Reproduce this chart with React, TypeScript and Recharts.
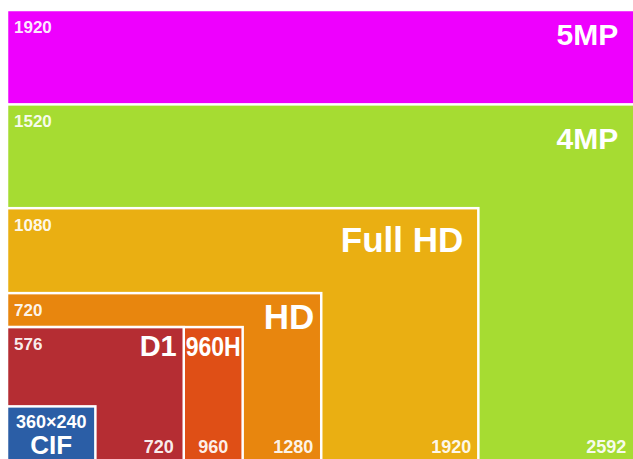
import React from 'react';
import { ComposedChart, XAxis, YAxis, ReferenceArea } from 'recharts';

// Resolutions, drawn largest first so smaller ones sit on top
const names = ['5MP', '4MP', 'Full HD', 'HD', '960H', 'D1', 'CIF'];
const widths = [2592, 2592, 1920, 1280, 960, 720, 360];
const heights = [1920, 1520, 1080, 720, 576, 576, 240];
const colors = ['#EE00FE', '#A6DC32', '#EAAF12', '#E8860E', '#DF4F16', '#B52D33', '#2B5EA6'];
// which corner labels are visible (others are hidden behind later boxes)
const showHeight = [true, true, true, true, false, true, false];
const showWidth = [false, true, true, true, true, true, false];

// styling of the name labels (font size, offset from top-right corner, baseline offset)
const nameStyle: Record<string, { size: number; dx: number; dy: number; center?: boolean; squeeze?: number }> = {
  '5MP': { size: 30, dx: -25, dy: 35 },
  '4MP': { size: 30, dx: -25, dy: 45 },
  'Full HD': { size: 35, dx: -15, dy: 44 },
  HD: { size: 35, dx: -7, dy: 36 },
  D1: { size: 29, dx: -7, dy: 29 },
  '960H': { size: 27, dx: 0, dy: 29, center: true, squeeze: 55 },
};
const widthLabelDx: Record<string, number> = { '4MP': -17, 'Full HD': -7, HD: -8, D1: -10, '960H': 0 };

const data = names.map((n, i) => ({ name: n, w: widths[i], h: heights[i] }));
const FONT = '"Liberation Sans", Arial, Helvetica, sans-serif';

const ResBox = (props: any) => {
  const { x, y, width, height, idx } = props;
  const name = names[idx];
  const right = x + width;
  const bottom = y + height;
  const ns = nameStyle[name];
  // left edge of the visible strip for 960H (right of D1 box)
  const stripLeft = name === '960H' ? x + (width * widths[5]) / widths[4] : x;
  return (
    <g>
      <rect x={x} y={y} width={width} height={height} fill={colors[idx]} stroke="#fff" strokeWidth={2.5} />
      {showHeight[idx] && (
        <text x={x + 7} y={y + 23} fill="#fff" fillOpacity={0.93} fontSize={17} fontWeight="bold" fontFamily={FONT}>
          {String(heights[idx])}
        </text>
      )}
      {ns && (
        <text
          x={ns.center ? (stripLeft + right) / 2 : right + ns.dx}
          y={y + ns.dy}
          fill="#fff"
          fontSize={ns.size}
          fontWeight="bold"
          fontFamily={FONT}
          textAnchor={ns.center ? 'middle' : 'end'}
          {...(ns.squeeze ? { textLength: ns.squeeze, lengthAdjust: 'spacingAndGlyphs' } : {})}
        >
          {name}
        </text>
      )}
      {showWidth[idx] && (
        <text
          x={name === '960H' ? (stripLeft + right) / 2 : right + (widthLabelDx[name] ?? -8)}
          y={bottom - 10}
          fill="#fff"
          fillOpacity={0.93}
          fontSize={18}
          fontWeight="bold"
          fontFamily={FONT}
          textAnchor={name === '960H' ? 'middle' : 'end'}
        >
          {String(widths[idx])}
        </text>
      )}
      {name === 'CIF' && (
        <g fontFamily={FONT} fontWeight="bold" fill="#fff" textAnchor="middle">
          <text x={x + width / 2} y={y + 22} fontSize={18}>
            {`${widths[idx]}×${heights[idx]}`}
          </text>
          <text x={x + width / 2} y={y + 48} fontSize={26}>
            {name}
          </text>
        </g>
      )}
    </g>
  );
};

export default function App() {
  return (
    <div style={{ position: 'absolute', left: 0, top: 0, width: 633, height: 459, overflow: 'hidden', background: '#fff' }}>
      <ComposedChart width={633} height={463} data={data} margin={{ top: 10, right: 0, bottom: 0, left: 7 }}>
        <XAxis type="number" dataKey="w" domain={[0, 2550]} allowDataOverflow hide />
        <YAxis type="number" dataKey="h" domain={[0, 1920]} allowDataOverflow hide />
        {names.map((n, i) => (
          <ReferenceArea
            key={n}
            x1={0}
            x2={widths[i]}
            y1={0}
            y2={heights[i]}
            fill={colors[i]}
            fillOpacity={1}
            stroke="#fff"
            ifOverflow="visible"
            shape={(p: any) => <ResBox {...p} idx={i} />}
          />
        ))}
      </ComposedChart>
    </div>
  );
}
